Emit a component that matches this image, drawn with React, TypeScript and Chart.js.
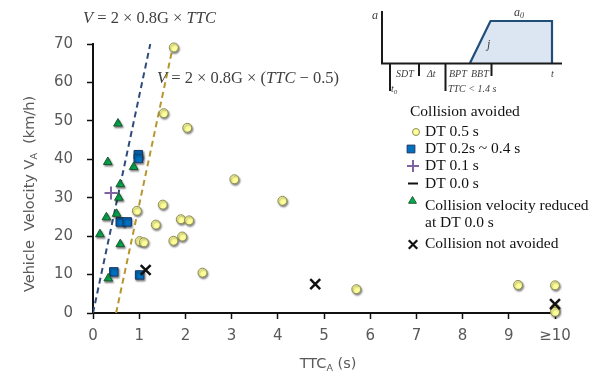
import React, { useEffect, useRef } from 'react';
import { Chart, registerables } from 'chart.js';
import { drawPoint } from 'chart.js/helpers';

Chart.register(...registerables);

// ---- data ----
const X_TICK_LABELS = ['0', '1', '2', '3', '4', '5', '6', '7', '8', '9', '≥10'];

const dt05X = [1.75, 1.53, 2.04, 3.06, 4.10, 1.51, 1.36, 1.90, 2.08, 1.93, 1.74, 2.37, 1.01, 1.10, 0.95, 5.70, 9.20, 10, 10, 10];
const dt05Y = [69.1, 52.0, 48.2, 34.8, 29.2, 28.2, 23.0, 24.4, 24.1, 19.9, 18.8, 10.5, 18.7, 18.4, 26.6, 6.2, 7.3, 7.2, 1.2, 0.3];

const dt0204X = [0.98, 0.98, 0.59, 0.74, 0.45, 1.01];
const dt0204Y = [41.2, 40.2, 23.7, 23.7, 10.7, 9.9];

const dt01X = [0.39];
const dt01Y = [31.2];

const reducedX = [0.54, 0.32, 0.88, 0.59, 0.56, 0.51, 0.29, 0.15, 0.59, 0.33];
const reducedY = [49.3, 39.3, 38.0, 33.5, 30.0, 25.8, 24.9, 20.5, 17.9, 9.0];

const notAvoidedX = [1.14, 4.81, 10];
const notAvoidedY = [11.2, 7.5, 2.3];

const lineTtcX = [0, 1.24];
const lineTtcY = [0, 70];
const lineTtc05X = [0.5, 1.72];
const lineTtc05Y = [0, 68.8];

const zip = (xs: number[], ys: number[]) => xs.map((x, i) => ({ x, y: ys[i] }));

const TICK_FONT = 'DejaVu Sans';
const SERIF = 'Liberation Serif';

type Part = { t: string; font: string; dy?: number };
function drawParts(ctx: CanvasRenderingContext2D, x: number, y: number, parts: Part[], align: 'left' | 'center' = 'left') {
  let total = 0;
  for (const p of parts) { ctx.font = p.font; total += ctx.measureText(p.t).width; }
  let cx = align === 'center' ? x - total / 2 : x;
  ctx.textAlign = 'left';
  for (const p of parts) {
    ctx.font = p.font;
    ctx.fillText(p.t, cx, y + (p.dy || 0));
    cx += ctx.measureText(p.t).width;
  }
}

const shadowPlugin = {
  id: 'shadowPts',
  beforeDatasetDraw(chart: any, args: any) {
    const ds = chart.data.datasets[args.index];
    const ctx = chart.ctx;
    ctx.save();
    if (ds.shadow) {
      ctx.shadowColor = 'rgba(0,0,0,0.45)';
      ctx.shadowBlur = 2;
      ctx.shadowOffsetX = 1;
      ctx.shadowOffsetY = 1.5;
    }
  },
  afterDatasetDraw(chart: any) {
    chart.ctx.restore();
  },
};

const decoPlugin = {
  id: 'deco',
  afterDraw(chart: any) {
    const ctx: CanvasRenderingContext2D = chart.ctx;
    ctx.save();
    ctx.textBaseline = 'alphabetic';

    // Axis titles
    ctx.fillStyle = '#595959';
    drawParts(ctx, 328, 368, [
      { t: 'TTC', font: `14.5px ${TICK_FONT}` },
      { t: 'A', font: `9.5px ${TICK_FONT}`, dy: 3 },
      { t: ' (s)', font: `14.5px ${TICK_FONT}` },
    ], 'center');
    ctx.save();
    ctx.translate(34, 194);
    ctx.rotate(-Math.PI / 2);
    drawParts(ctx, 0, 0, [
      { t: 'Vehicle  Velocity V', font: `14.5px ${TICK_FONT}` },
      { t: 'A', font: `9.5px ${TICK_FONT}`, dy: 3 },
      { t: '  (km/h)', font: `14.5px ${TICK_FONT}` },
    ], 'center');
    ctx.restore();

    // Equations
    ctx.fillStyle = '#404040';
    const it = `italic 16.5px ${SERIF}`;
    const up = `16.5px ${SERIF}`;
    drawParts(ctx, 83, 23, [
      { t: 'V', font: it }, { t: ' = 2 × 0.8G × ', font: up }, { t: 'TTC', font: it },
    ]);
    drawParts(ctx, 157, 83, [
      { t: 'V', font: it }, { t: ' = 2 × 0.8G × (', font: up }, { t: 'TTC', font: it }, { t: ' − 0.5)', font: up },
    ]);

    // Inset diagram
    ctx.beginPath();
    ctx.moveTo(470, 63); ctx.lineTo(490.5, 21); ctx.lineTo(552, 21); ctx.lineTo(552, 63); ctx.closePath();
    ctx.fillStyle = '#DCE6F2';
    ctx.fill();
    ctx.strokeStyle = '#1F4E79';
    ctx.lineWidth = 2.2;
    ctx.beginPath();
    ctx.moveTo(470, 63); ctx.lineTo(490.5, 21); ctx.lineTo(552, 21); ctx.lineTo(552, 63);
    ctx.stroke();
    ctx.strokeStyle = '#1a1a1a';
    ctx.lineWidth = 2;
    ctx.beginPath();
    ctx.moveTo(382, 11); ctx.lineTo(382, 63.5);
    ctx.moveTo(381, 63.5); ctx.lineTo(562, 63.5);
    ctx.moveTo(390, 63); ctx.lineTo(390, 91);
    ctx.moveTo(419, 63); ctx.lineTo(419, 76);
    ctx.moveTo(445.5, 63); ctx.lineTo(445.5, 91);
    ctx.moveTo(491.5, 63); ctx.lineTo(491.5, 76);
    ctx.stroke();
    ctx.fillStyle = '#404040';
    const sf = `italic 10px ${SERIF}`;
    ctx.font = `italic 12px ${SERIF}`;
    ctx.fillText('a', 372, 19);
    drawParts(ctx, 514, 16, [{ t: 'a', font: `italic 12px ${SERIF}` }, { t: '0', font: `italic 8px ${SERIF}`, dy: 2 }]);
    ctx.font = `italic 12px ${SERIF}`;
    ctx.fillText('j', 487, 48);
    ctx.font = sf;
    ctx.fillText('SDT', 396, 77);
    ctx.fillText('Δt', 427, 77);
    ctx.fillText('BPT', 449, 77);
    ctx.fillText('BBT', 471, 77);
    ctx.fillText('t', 551, 77);
    drawParts(ctx, 391, 92, [{ t: 't', font: sf }, { t: '0', font: `italic 7px ${SERIF}`, dy: 2 }]);
    ctx.font = sf;
    ctx.fillText('TTC < 1.4 s', 448, 92);

    // Legend
    ctx.fillStyle = '#111';
    ctx.textBaseline = 'middle';
    ctx.font = `15.5px ${SERIF}`;
    ctx.fillText('Collision avoided', 410, 112);
    const tx = 425;
    const rows: [number, string][] = [
      [132, 'DT 0.5 s'], [149, 'DT 0.2s ~ 0.4 s'], [166, 'DT 0.1 s'], [183.5, 'DT 0.0 s'],
      [205.5, 'Collision velocity reduced'], [223, 'at DT 0.0 s'], [244, 'Collision not avoided'],
    ];
    for (const [y, t] of rows) ctx.fillText(t, tx, y);

    // legend markers
    ctx.fillStyle = '#FFFF99'; ctx.strokeStyle = '#8C8C5A'; ctx.lineWidth = 1;
    drawPoint(ctx, { pointStyle: 'circle', radius: 3.5, rotation: 0, borderWidth: 1 } as any, 416, 132);
    ctx.fillStyle = '#0070C0'; ctx.strokeStyle = '#1F3864';
    drawPoint(ctx, { pointStyle: 'rect', radius: 5.5, rotation: 0, borderWidth: 1 } as any, 411, 149);
    ctx.strokeStyle = '#8064A2'; ctx.lineWidth = 2;
    drawPoint(ctx, { pointStyle: 'cross', radius: 6, rotation: 0, borderWidth: 2 } as any, 413, 166);
    ctx.strokeStyle = '#111'; ctx.lineWidth = 2;
    ctx.beginPath(); ctx.moveTo(408, 183.5); ctx.lineTo(418, 183.5); ctx.stroke();
    ctx.fillStyle = '#00B050'; ctx.strokeStyle = '#1E5631'; ctx.lineWidth = 1;
    drawPoint(ctx, { pointStyle: 'triangle', radius: 4.5, rotation: 0, borderWidth: 1 } as any, 412.5, 201);
    ctx.strokeStyle = '#111'; ctx.lineWidth = 2.2;
    drawPoint(ctx, { pointStyle: 'crossRot', radius: 6, rotation: 0, borderWidth: 2.2 } as any, 413, 244.5);

    ctx.restore();
  },
};

export default function App() {
  const ref = useRef<HTMLCanvasElement>(null);
  useEffect(() => {
    document.body.style.margin = '0';
    const canvas = ref.current!;
    const chart = new Chart(canvas, {
      type: 'scatter',
      data: {
        datasets: [
          {
            label: 'Collision not avoided', data: zip(notAvoidedX, notAvoidedY),
            pointStyle: 'crossRot', pointRadius: 7, borderColor: '#111', borderWidth: 2.5,
            backgroundColor: '#111', clip: false, order: 1,
          } as any,
          {
            label: 'Collision velocity reduced at DT 0.0 s', data: zip(reducedX, reducedY),
            pointStyle: 'triangle', pointRadius: 5, backgroundColor: '#00B050', borderColor: '#1E5631',
            borderWidth: 1, clip: false, shadow: true, order: 2,
          },
          {
            label: 'DT 0.1 s', data: zip(dt01X, dt01Y),
            pointStyle: 'cross', pointRadius: 6.5, borderColor: '#8064A2', borderWidth: 2,
            backgroundColor: '#8064A2', clip: false, order: 3,
          },
          {
            label: 'DT 0.2s ~ 0.4 s', data: zip(dt0204X, dt0204Y),
            pointStyle: 'rect', pointRadius: 6, backgroundColor: '#0070C0', borderColor: '#1F3864',
            borderWidth: 1, clip: false, shadow: true, order: 4,
          },
          {
            label: 'DT 0.5 s', data: zip(dt05X, dt05Y),
            pointStyle: 'circle', pointRadius: 4.5, backgroundColor: '#FFFF99', borderColor: '#8C8C5A',
            borderWidth: 1, clip: false, shadow: true, order: 5,
          },
          {
            label: 'V = 2×0.8G×TTC', data: zip(lineTtcX, lineTtcY), showLine: true,
            pointRadius: 0, borderColor: '#2F4B7C', borderWidth: 2, borderDash: [6, 4], order: 6,
          },
          {
            label: 'V = 2×0.8G×(TTC−0.5)', data: zip(lineTtc05X, lineTtc05Y), showLine: true,
            pointRadius: 0, borderColor: '#B8962E', borderWidth: 2, borderDash: [6, 4], order: 7,
          },
        ] as any,
      },
      options: {
        animation: false,
        responsive: false,
        devicePixelRatio: 1,
        layout: { padding: { top: 44, right: 36, left: 0, bottom: 0 } },
        plugins: { legend: { display: false }, tooltip: { enabled: false } },
        events: [],
        scales: {
          x: {
            type: 'linear', min: 0, max: 10,
            afterFit: (s: any) => { s.height = 64; },
            grid: { drawOnChartArea: false, drawTicks: true, tickLength: 6, color: '#111', tickWidth: 1.5 },
            border: { display: true, color: '#111', width: 2 },
            ticks: {
              stepSize: 1, autoSkip: false, maxRotation: 0, padding: 8,
              color: '#595959', font: { family: TICK_FONT, size: 15 },
              callback: (v: any) => X_TICK_LABELS[Math.round(Number(v))] ?? '',
            },
          },
          y: {
            type: 'linear', min: 0, max: 70,
            afterFit: (s: any) => { s.width = 93; },
            grid: { drawOnChartArea: false, drawTicks: true, tickLength: 6, color: '#111', tickWidth: 1.5 },
            border: { display: true, color: '#111', width: 2 },
            ticks: {
              stepSize: 10, padding: 14,
              color: '#595959', font: { family: TICK_FONT, size: 15 },
            },
          },
        },
      } as any,
      plugins: [shadowPlugin, decoPlugin],
    });
    return () => chart.destroy();
  }, []);
  return <canvas ref={ref} width={591} height={377} style={{ display: 'block' }} />;
}
